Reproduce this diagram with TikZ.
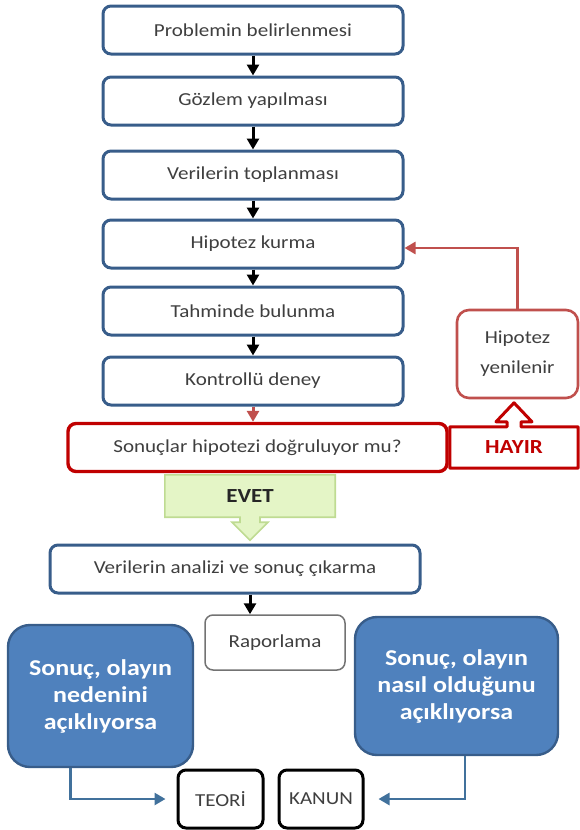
\documentclass[tikz,border=0pt]{standalone}
\usepackage{fontspec}
\setmainfont{Carlito}[FakeStretch=1.15]
\usepackage{xcolor}
\usetikzlibrary{arrows.meta,backgrounds}
\definecolor{boxblue}{HTML}{385D8A}
\definecolor{fillblue}{HTML}{4F81BD}
\definecolor{linkblue}{HTML}{41719C}
\definecolor{darkred}{HTML}{C00000}
\definecolor{softred}{HTML}{C0504D}
\definecolor{yesfill}{HTML}{E4F5C6}
\definecolor{yesline}{HTML}{BFDB92}
\definecolor{txt}{HTML}{3F3F3F}

\begin{document}
\begin{tikzpicture}[x=1pt, y=-1pt, >={Triangle[length=11pt,width=12pt]},
    stepbox/.style={draw=boxblue, line width=3pt, rounded corners=8pt, fill=white, minimum width=300pt, minimum height=48pt, text=txt, font=\fontsize{18.3}{22}\selectfont},
    askbox/.style={draw=darkred, line width=3.4pt, rounded corners=8pt, fill=white, minimum width=379pt, minimum height=48pt, text=txt, font=\fontsize{18.3}{22}\selectfont},
    nobox/.style={minimum width=128pt, minimum height=41pt, text=darkred, font=\fontsize{20}{24}\selectfont\bfseries},
    newbox/.style={draw=softred, line width=2.6pt, rounded corners=12pt, fill=white, minimum width=121pt, minimum height=88pt, align=center, text=txt, font=\fontsize{18.3}{30}\selectfont},
    yesbox/.style={minimum width=170pt, minimum height=42pt, text=black!85, font=\fontsize{20}{24}\selectfont\bfseries},
    reportbox/.style={draw=black!55, line width=1.5pt, rounded corners=8pt, fill=white, minimum width=140pt, minimum height=55pt, text=txt, font=\fontsize{18.3}{22}\selectfont},
    causebox/.style={draw=boxblue, line width=2.4pt, rounded corners=22pt, fill=fillblue, minimum width=185pt, minimum height=142pt, align=center, text=white, font=\fontsize{22.6}{27}\selectfont\bfseries},
    endbox/.style={draw=black, line width=3pt, rounded corners=8pt, fill=white, minimum width=85pt, minimum height=58pt, text=txt, font=\fontsize{18.3}{22}\selectfont},
    flow/.style={->, line width=3pt}]
    \useasboundingbox (0,0) rectangle (580,830);
    \node[stepbox] (p1) at (253, 30) {Problemin belirlenmesi};
    \node[stepbox] (p2) at (253, 101) {Gözlem yapılması};
    \node[stepbox] (p3) at (253, 175) {Verilerin toplanması};
    \node[stepbox] (p4) at (253, 244) {Hipotez kurma};
    \node[stepbox] (p5) at (253, 311) {Tahminde bulunma};
    \node[stepbox] (p6) at (253, 381) {Kontrollü deney};
    \node[askbox] (q) at (257.5, 447.5) {Sonuçlar hipotezi doğruluyor mu?};
    \node[nobox] (no) at (514, 447.5) {HAYIR};
    \node[newbox] (hy) at (517.5, 354) {Hipotez\\yenilenir};
    \node[yesbox] (yes) at (250, 496) {EVET};
    \node[stepbox, minimum width=370pt] (p7) at (235, 569) {Verilerin analizi ve sonuç çıkarma};
    \node[reportbox] (p8) at (275, 642.5) {Raporlama};
    \node[causebox] (c1) at (100.5, 696) {Sonuç, olayın\\nedenini\\açıklıyorsa};
    \node[causebox, minimum width=203pt, minimum height=138pt] (c2) at (456.5, 686) {Sonuç, olayın\\nasıl olduğunu\\açıklıyorsa};
    \node[endbox] (th) at (220.5, 799) {TEORİ};
    \node[endbox, minimum width=84pt] (lw) at (321, 799) {KANUN};
    \begin{scope}[on background layer]
        \draw[yesline, fill=yesfill, line width=1.6pt] (yes.north west) -- (yes.north east) -- (yes.south east) -- ([xshift=10pt]yes.south) -- ++(0,5) -- ++(8,0) -- ++(-18,18) -- ++(-18,-18) -- ++(8,0) -- ++(0,-5) -- (yes.south west) -- cycle;
    \end{scope}
    \draw[darkred, line width=3pt, line join=round] (no.south west) -- (no.north west) -- ([xshift=-7pt]no.north) -- ++(0,-5) -- ++(-11,0) -- ++(18,-19) -- ++(18,19) -- ++(-11,0) -- ++(0,5) -- (no.north east) -- (no.south east) -- cycle;
    \draw[flow] (p1) -- (p2);
    \draw[flow] (p2) -- (p3);
    \draw[flow] (p3) -- (p4);
    \draw[flow] (p4) -- (p5);
    \draw[flow] (p5) -- (p6);
    \draw[flow, softred] (p6.south) -- (p6.south |- q.north);
    \draw[flow, softred, line width=2.6pt] (hy.north) |- ([yshift=-4pt]p4.east);
    \draw[flow] ([xshift=15pt]p7.south) -- ([xshift=15pt]p7.south |- p8.north);
    \draw[flow, linkblue, line width=2.6pt, shorten >=11pt] ([xshift=-30pt]c1.south) |- (th.west);
    \draw[flow, linkblue, line width=2.6pt, shorten >=14pt] ([xshift=8.5pt]c2.south) |- (lw.east);
\end{tikzpicture}
\end{document}
